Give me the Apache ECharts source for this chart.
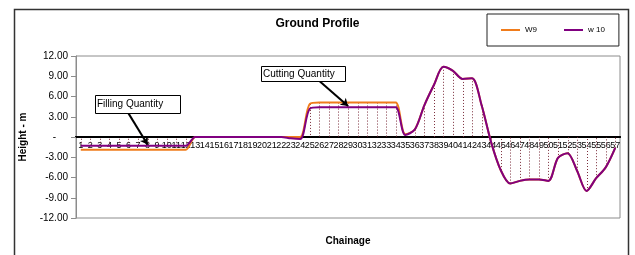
<!DOCTYPE html>
<html>
<head>
<meta charset="utf-8">
<script src="https://cdn.jsdelivr.net/npm/echarts@6/dist/echarts.min.js"></script>
<style>
  html, body { margin: 0; padding: 0; background: #fff; }
  #chart { width: 635px; height: 255px; }
</style>
</head>
<body>
<div id="chart"></div>
<script>
// chainage stations
const categories = ['1', '2', '3', '4', '5', '6', '7', '8', '9', '10',
  '11', '12', '13', '14', '15', '16', '17', '18', '19', '20',
  '21', '22', '23', '24', '25', '26', '27', '28', '29', '30',
  '31', '32', '33', '34', '35', '36', '37', '38', '39', '40',
  '41', '42', '43', '44', '45', '46', '47', '48', '49', '50',
  '51', '52', '53', '54', '55', '56', '57']

// W9 ground levels (m)
const w9 = [-1.9, -1.9, -1.9, -1.9, -1.9, -1.9, -1.9, -1.9, -1.9, -1.9,
  -1.9, -1.9, 0, 0, 0, 0, 0, 0, 0, 0,
  0, 0, 0, 0, 4.9, 5.1, 5.1, 5.1, 5.1, 5.1,
  5.1, 5.1, 5.1, 5.1, 0.4, 1.1, 4.7, 7.7, 10.4, 9.8,
  8.6, 8.7, 4.7, -0.8, -4.9, -6.9, -6.5, -6.3, -6.3, -6.5,
  -3.1, -2.4, -5.0, -8.0, -6.1, -4.5, -1.6]

// w 10 ground levels (m)
const w10 = [-1.3, -1.3, -1.3, -1.3, -1.3, -1.3, -1.3, -1.3, -1.3, -1.3,
  -1.3, -1.3, 0, 0, 0, 0, 0, 0, 0, 0,
  0, 0, -0.2, -0.3, 4.2, 4.4, 4.4, 4.4, 4.4, 4.4,
  4.4, 4.4, 4.4, 4.4, 0.3, 1.1, 4.7, 7.7, 10.4, 9.8,
  8.6, 8.7, 4.7, -0.8, -4.9, -6.9, -6.5, -6.3, -6.3, -6.5,
  -3.1, -2.4, -5.0, -8.0, -6.1, -4.5, -1.6]

const yTicks = [-12, -9, -6, -3, 0, 3, 6, 9, 12]

// drop lines go from the higher of the two profiles to the axis
const dropData = categories.map((c, i) => [i, Math.max(w9[i], w10[i])])

const myChart = echarts.init(document.getElementById('chart'))
const font = 'Liberation Sans, Arial, sans-serif'

// grid is 162px high and symmetric about 0, so the category axis sits 81px above the bottom edge
const gridTop = 56
const gridBottom = 37
const zeroOffset = -(255 - gridTop - gridBottom) / 2

const options = {
  animation: false,
  title: {
    text: 'Ground Profile',
    left: 'center',
    top: 13,
    textStyle: { fontFamily: font, fontSize: 12, fontWeight: 'bold', color: '#000' }
  },
  legend: {
    left: 487,
    top: 14,
    padding: [11, 14, 11, 14],
    borderColor: '#222',
    borderWidth: 1,
    icon: 'rect',
    itemWidth: 19,
    itemHeight: 2,
    itemGap: 27,
    textStyle: { fontFamily: font, fontSize: 8, color: '#000', lineHeight: 10 },
    data: ['W9', 'w 10']
  },
  grid: {
    left: 76,
    right: 15,
    top: gridTop,
    bottom: gridBottom,
    containLabel: false,
    outerBoundsMode: 'none',
    show: true,
    borderColor: '#8c8c8c',
    borderWidth: 1
  },
  xAxis: [
    {
      type: 'category',
      data: categories,
      position: 'bottom',
      offset: zeroOffset,
      name: 'Chainage',
      nameLocation: 'middle',
      nameGap: 99,
      nameTextStyle: { fontFamily: font, fontSize: 10, fontWeight: 'bold', color: '#000' },
      axisLine: { onZero: false, lineStyle: { color: '#000', width: 2 } },
      axisTick: { length: 4, lineStyle: { color: '#000', width: 1.5 } },
      axisLabel: { interval: 0, margin: 4, fontFamily: font, fontSize: 9, color: '#000' }
    },
    {
      // upper half of the crossing tick marks
      type: 'category',
      data: categories,
      position: 'bottom',
      offset: zeroOffset,
      axisLine: { onZero: false, lineStyle: { color: '#000', width: 2 } },
      axisTick: { inside: true, length: 4, lineStyle: { color: '#000', width: 1.5 } },
      axisLabel: { show: false }
    }
  ],
  yAxis: {
    type: 'value',
    min: yTicks[0],
    max: yTicks[yTicks.length - 1],
    interval: 3,
    name: 'Height - m',
    nameLocation: 'middle',
    nameGap: 48,
    nameTextStyle: { fontFamily: font, fontSize: 10, fontWeight: 'bold', color: '#000' },
    splitLine: { show: false },
    axisLine: { show: true, onZero: false, lineStyle: { color: '#8c8c8c', width: 1 } },
    axisTick: { show: true, length: 5, lineStyle: { color: '#8c8c8c' } },
    axisLabel: {
      margin: 8,
      fontFamily: font,
      fontSize: 10,
      color: '#000',
      formatter: (v) => (v === 0 ? '{z|-}' : v.toFixed(2)),
      rich: { z: { fontFamily: font, fontSize: 10, color: '#000', padding: [0, 12, 0, 0] } }
    }
  },
  series: [
    {
      name: 'drops',
      type: 'custom',
      z: 1,
      silent: true,
      data: dropData,
      renderItem: (params, api) => {
        const top = api.coord([api.value(0), api.value(1)])
        const base = api.coord([api.value(0), 0])
        return {
          type: 'line',
          shape: { x1: Math.round(top[0]) + 0.5, y1: top[1], x2: Math.round(base[0]) + 0.5, y2: base[1] },
          style: { stroke: '#7b2d3b', lineWidth: 1, lineDash: [1, 2] }
        }
      }
    },
    {
      name: 'W9',
      type: 'line',
      smooth: 0.3,
      symbol: 'none',
      z: 3,
      lineStyle: { color: '#f07c1c', width: 2 },
      itemStyle: { color: '#f07c1c' },
      data: w9
    },
    {
      name: 'w 10',
      type: 'line',
      smooth: 0.3,
      symbol: 'none',
      z: 4,
      lineStyle: { color: '#800080', width: 2 },
      itemStyle: { color: '#800080' },
      data: w10,
      markLine: {
        silent: true,
        symbol: ['none', 'arrow'],
        symbolSize: 7,
        label: { show: false },
        lineStyle: { color: '#000', width: 2, type: 'solid' },
        data: [
          [{ coord: ['6', 3.5] }, { coord: ['8', -1.1] }],
          [{ coord: ['26', 8.3] }, { coord: ['29', 4.6] }]
        ]
      }
    }
  ],
  graphic: [
    {
      type: 'rect',
      silent: true,
      shape: { x: 14.5, y: 9.5, width: 614, height: 260 },
      style: { fill: 'none', stroke: '#333', lineWidth: 1.5 }
    },
    {
      type: 'rect',
      z: 10,
      shape: { x: 95.5, y: 95.5, width: 85, height: 18 },
      style: { fill: '#fff', stroke: '#000', lineWidth: 1 }
    },
    {
      type: 'text',
      z: 11,
      x: 97,
      y: 104.5,
      style: { text: 'Filling Quantity', font: '10px ' + font, fill: '#000', verticalAlign: 'middle' }
    },
    {
      type: 'rect',
      z: 10,
      shape: { x: 261.5, y: 66.5, width: 84, height: 15 },
      style: { fill: '#fff', stroke: '#000', lineWidth: 1 }
    },
    {
      type: 'text',
      z: 11,
      x: 263,
      y: 74,
      style: { text: 'Cutting Quantity', font: '10px ' + font, fill: '#000', verticalAlign: 'middle' }
    }
  ]
}

myChart.setOption(options)
</script>
</body>
</html>
